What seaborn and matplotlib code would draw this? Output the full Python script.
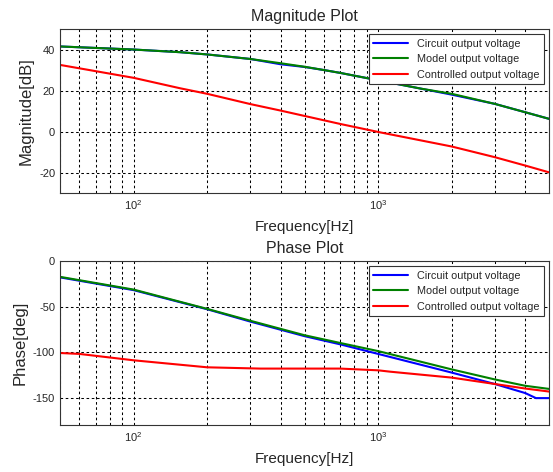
import pandas as pd
import matplotlib
matplotlib.use('Agg')
import matplotlib.pyplot as plt
import seaborn as sns

# Magnitude (dB)
mag_freq = [50, 100, 155, 200, 300, 400, 500, 600, 700, 1000, 1500, 2000, 3000, 4000, 5000]
mag_circuit = [41.5, 40.0, 38.7, 37.6, 35.4, 32.8, 31.5, 30.0, 28.6, 25.0, 20.9, 18.0, 13.5, 9.4, 6.2]
mag_model = [41.5, 40.0, 38.7, 37.6, 35.4, 33.3, 31.6, 30.0, 28.6, 25.0, 20.9, 18.4, 13.5, 9.4, 6.2]
mag_ctrl_freq = [50, 100, 155, 200, 300, 400, 700, 1000, 2000, 3000, 4000, 5000]
mag_ctrl = [32.5, 26.2, 21.1, 18.4, 13.4, 10.2, 3.7, -0.2, -7.3, -12.5, -16.6, -19.9]

# Phase (deg)
ph_freq_circuit = [50, 100, 200, 300, 500, 700, 1000, 2000, 3000, 4000, 4420, 5000]
ph_circuit = [-18.0, -32.0, -53.0, -66.5, -82.5, -91.5, -102.0, -122.5, -135.0, -145.0, -150.5, -150.5]
ph_freq = [50, 100, 200, 300, 500, 700, 1000, 2000, 3000, 4000, 5000]
ph_model = [-17.4, -31.4, -52.6, -65.6, -81.5, -90.0, -98.9, -119.0, -130.0, -137.0, -140.4]
ph_freq_ctrl = [50, 60, 100, 200, 330, 700, 1000, 1120, 2000, 3000, 4000, 5000]
ph_ctrl = [-101.0, -102.0, -109.0, -116.7, -118.1, -118.1, -120.0, -121.5, -128.0, -135.0, -140.0, -143.3]

labels = ['Circuit output voltage', 'Model output voltage', 'Controlled output voltage']
colors = {labels[0]: '#0000ff', labels[1]: '#008000', labels[2]: '#ff0000'}


def long_df(pairs):
    frames = []
    for name, f, v in pairs:
        frames.append(pd.DataFrame({'freq': f, 'val': v, 'series': name}))
    return pd.concat(frames, ignore_index=True)


mag_df = long_df([(labels[0], mag_freq, mag_circuit),
                  (labels[1], mag_freq, mag_model),
                  (labels[2], mag_ctrl_freq, mag_ctrl)])
ph_df = long_df([(labels[0], ph_freq_circuit, ph_circuit),
                 (labels[1], ph_freq, ph_model),
                 (labels[2], ph_freq_ctrl, ph_ctrl)])

sns.set_style('white')
plt.rcParams['font.family'] = ['Liberation Sans', 'DejaVu Sans']
plt.rcParams['axes.unicode_minus'] = False

fig = plt.figure(figsize=(5.53, 4.72), dpi=100)
ax1 = fig.add_axes([0.1085, 0.591, 0.8843, 0.3475])
ax2 = fig.add_axes([0.1085, 0.0996, 0.8843, 0.3475])

setups = [
    (ax1, mag_df, 'Magnitude Plot', 'Magnitude[dB]', (-30, 50), [-20, 0, 20, 40], -0.053),
    (ax2, ph_df, 'Phase Plot', 'Phase[deg]', (-180, 0), [-150, -100, -50, 0], -0.067),
]

grid_style = dict(color='black', linestyle=(0, (2.5, 2.5)), linewidth=0.75)

for ax, df, title, ylabel, ylim, yticks, label_x in setups:
    sns.lineplot(data=df, x='freq', y='val', hue='series', hue_order=labels,
                 palette=colors, estimator=None, linewidth=1.5, ax=ax)
    ax.set_xscale('log')
    ax.set_xlim(50, 5000)
    ax.set_ylim(*ylim)
    ax.set_yticks(yticks)
    ax.set_yticklabels([str(t) for t in yticks])
    ax.set_title(title, fontsize=11.5, pad=6)
    ax.set_xlabel('Frequency[Hz]', fontsize=11, labelpad=6)
    ax.set_ylabel(ylabel, fontsize=12)
    ax.yaxis.set_label_coords(label_x, 0.5)
    ax.grid(True, which='major', axis='both', **grid_style)
    ax.grid(True, which='minor', axis='x', **grid_style)
    ax.tick_params(axis='both', which='both', direction='in', labelsize=8, color='#333333')
    ax.tick_params(which='major', length=4)
    ax.tick_params(which='minor', length=2)
    for s in ax.spines.values():
        s.set_color('#333333')
        s.set_linewidth(0.8)
    leg = ax.legend(loc='upper right', fontsize=7.8, fancybox=False, framealpha=1,
                    edgecolor='#333333', handlelength=3.2, borderpad=0.45,
                    labelspacing=0.5, borderaxespad=0.45)
    leg.get_frame().set_linewidth(0.8)

fig.savefig('out.png', dpi=100, facecolor='white')
